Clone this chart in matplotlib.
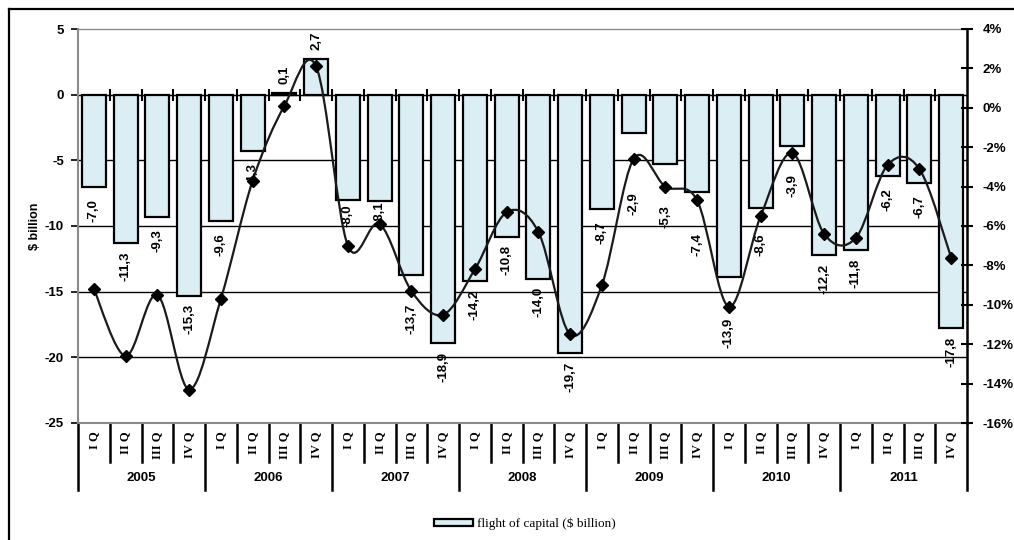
import numpy as np
import matplotlib.pyplot as plt
import matplotlib.transforms as mtransforms
from matplotlib.path import Path
from matplotlib.patches import PathPatch
from matplotlib.lines import Line2D
from matplotlib.ticker import FuncFormatter, NullFormatter

plt.rcParams['axes.unicode_minus'] = False

# Quarterly capital flight, 2005-2011
years = ['2005', '2006', '2007', '2008', '2009', '2010', '2011']
quarters = ['I Q', 'II Q', 'III Q', 'IV Q']

# $ billion (bars, left axis)
flight = [-7.0, -11.3, -9.3, -15.3,
          -9.6, -4.3, 0.1, 2.7,
          -8.0, -8.1, -13.7, -18.9,
          -14.2, -10.8, -14.0, -19.7,
          -8.7, -2.9, -5.3, -7.4,
          -13.9, -8.6, -3.9, -12.2,
          -11.8, -6.2, -6.7, -17.8]

# % (smoothed line, right axis)
flight_pct = [-9.2, -12.6, -9.5, -14.3,
              -9.7, -3.7, 0.1, 2.1,
              -7.0, -5.9, -9.3, -10.5,
              -8.2, -5.3, -6.3, -11.5,
              -9.0, -2.6, -4.0, -4.7,
              -10.1, -5.5, -2.3, -6.4,
              -6.6, -2.9, -3.1, -7.6]

# extra distance of some value labels from the bar end (in $ billion)
label_gap = {8: 1.2, 9: 0.85, 10: 3.35, 17: 5.4, 18: 3.95, 19: 4.0,
             20: 4.25, 21: 2.8, 22: 3.0}

BAR_COLOR = '#DAEEF3'
SANS = 'Liberation Sans'
SERIF = 'Liberation Serif'

n = len(flight)
x = np.arange(n)
cat_labels = quarters * len(years)

fig = plt.figure(figsize=(10.14, 5.4), dpi=100)
ax = fig.add_axes([78 / 1014, 1 - 423 / 540, (967 - 78) / 1014, 394 / 540])
ax2 = ax.twinx()

ylo, yhi = -25, 5
ax.set_ylim(ylo, yhi)
ax.set_xlim(-0.5, n - 0.5)
ax2.set_ylim(-16, 4)

# bars
bars = ax.bar(x, flight, width=0.75, color=BAR_COLOR, edgecolor='black',
              linewidth=1.6, zorder=3)

# value labels, decimal comma, rotated
for i, v in enumerate(flight):
    txt = f'{v:.1f}'.replace('.', ',')
    if v >= 0:
        ypos = v + 1.4
    else:
        ypos = v - label_gap.get(i, 1.8)
    ax.text(i, ypos, txt, rotation=90, ha='center', va='center', fontsize=9.5,
            fontweight='bold', family=SANS, zorder=5)

# left axis
ax.set_yticks(np.arange(-25, 6, 5))
ax.tick_params(axis='y', direction='out', length=5, width=1.2, color='black',
               pad=5, labelsize=9.5)
for t in ax.get_yticklabels():
    t.set_fontweight('bold')
    t.set_family(SANS)
ax.set_ylabel('$ billion', fontsize=9, fontweight='bold', family=SANS, labelpad=3)

ax.yaxis.grid(True, color='black', linewidth=1.0)
ax.set_axisbelow(True)
glines = ax.get_ygridlines()
for k in (0, len(glines) - 1):
    glines[k].set_visible(False)

for side in ('left', 'bottom', 'top'):
    ax.spines[side].set_color('#8a8a8a')
    ax.spines[side].set_linewidth(1.5)
ax.spines['top'].set_linewidth(1.0)
ax.spines['right'].set_visible(False)

# category axis crossing at zero
zero_loc = (0 - ylo) / (yhi - ylo)
zax = ax.secondary_xaxis(zero_loc)
zax.set_xticks(np.arange(0.5, n - 1, 1.0))
zax.xaxis.set_major_formatter(NullFormatter())
zax.tick_params(axis='x', direction='inout', length=8, width=1.5,
                labelbottom=False, labeltop=False)
zax.spines['bottom'].set_color('black')
zax.spines['bottom'].set_linewidth(1.8)

# quarter labels along the bottom
ax.set_xticks(x)
ax.set_xticklabels(cat_labels, rotation=90, family=SERIF, fontweight='bold',
                   fontsize=9)
ax.tick_params(axis='x', length=0, pad=6)

trans = mtransforms.blended_transform_factory(ax.transData, ax.transAxes)
for b in range(n + 1):
    year_edge = b % 4 == 0
    bottom = -0.17 if year_edge else -0.099
    ax.add_line(Line2D([b - 0.5, b - 0.5], [0, bottom], transform=trans,
                       color='black', linewidth=1.8, clip_on=False))
for k, yr in enumerate(years):
    ax.text(4 * k + 1.5, -0.14, yr, transform=trans, ha='center', va='center',
            fontsize=9.5, fontweight='bold', family=SANS)

# smoothed percentage line (Bezier through the points)
pts = np.column_stack([x, flight_pct]).astype(float)
verts = [pts[0]]
codes = [Path.MOVETO]
for i in range(n - 1):
    p_prev = pts[i - 1] if i > 0 else pts[i]
    p_next = pts[i + 2] if i + 2 < n else pts[i + 1]
    c1 = pts[i] + (pts[i + 1] - p_prev) / 6
    c2 = pts[i + 1] - (p_next - pts[i]) / 6
    verts += [c1, c2, pts[i + 1]]
    codes += [Path.CURVE4] * 3
ax2.add_patch(PathPatch(Path(verts, codes), facecolor='none',
                        edgecolor='#1a1a1a', linewidth=1.6, zorder=4))
ax2.plot(x, flight_pct, linestyle='none', marker='D', markersize=6,
         color='black', zorder=5)

# right axis
ax2.set_yticks(np.arange(-16, 5, 2))
ax2.yaxis.set_major_formatter(FuncFormatter(lambda v, p: f'{v:.0f}%'))
ax2.tick_params(axis='y', direction='inout', length=8, width=1.5, pad=7,
                labelsize=9.5)
for t in ax2.get_yticklabels():
    t.set_fontweight('bold')
    t.set_family(SANS)
for side in ('left', 'bottom', 'top'):
    ax2.spines[side].set_visible(False)
ax2.spines['right'].set_color('black')
ax2.spines['right'].set_linewidth(1.8)

# legend
fig.legend([bars], ['flight of capital ($ billion)'], loc='center',
           bbox_to_anchor=(525 / 1014, 1 - 524 / 540), frameon=False,
           prop={'family': SERIF, 'size': 9.5}, handlelength=3.0,
           handleheight=0.45, handletextpad=0.3)

# outer frame
fig.add_artist(Line2D([9 / 1014, 1.0], [1 - 9 / 540, 1 - 9 / 540],
                      transform=fig.transFigure, color='black', linewidth=1.6))
fig.add_artist(Line2D([9 / 1014, 9 / 1014], [0, 1 - 9 / 540],
                      transform=fig.transFigure, color='black', linewidth=1.6))

fig.savefig('out.png', dpi=100)
